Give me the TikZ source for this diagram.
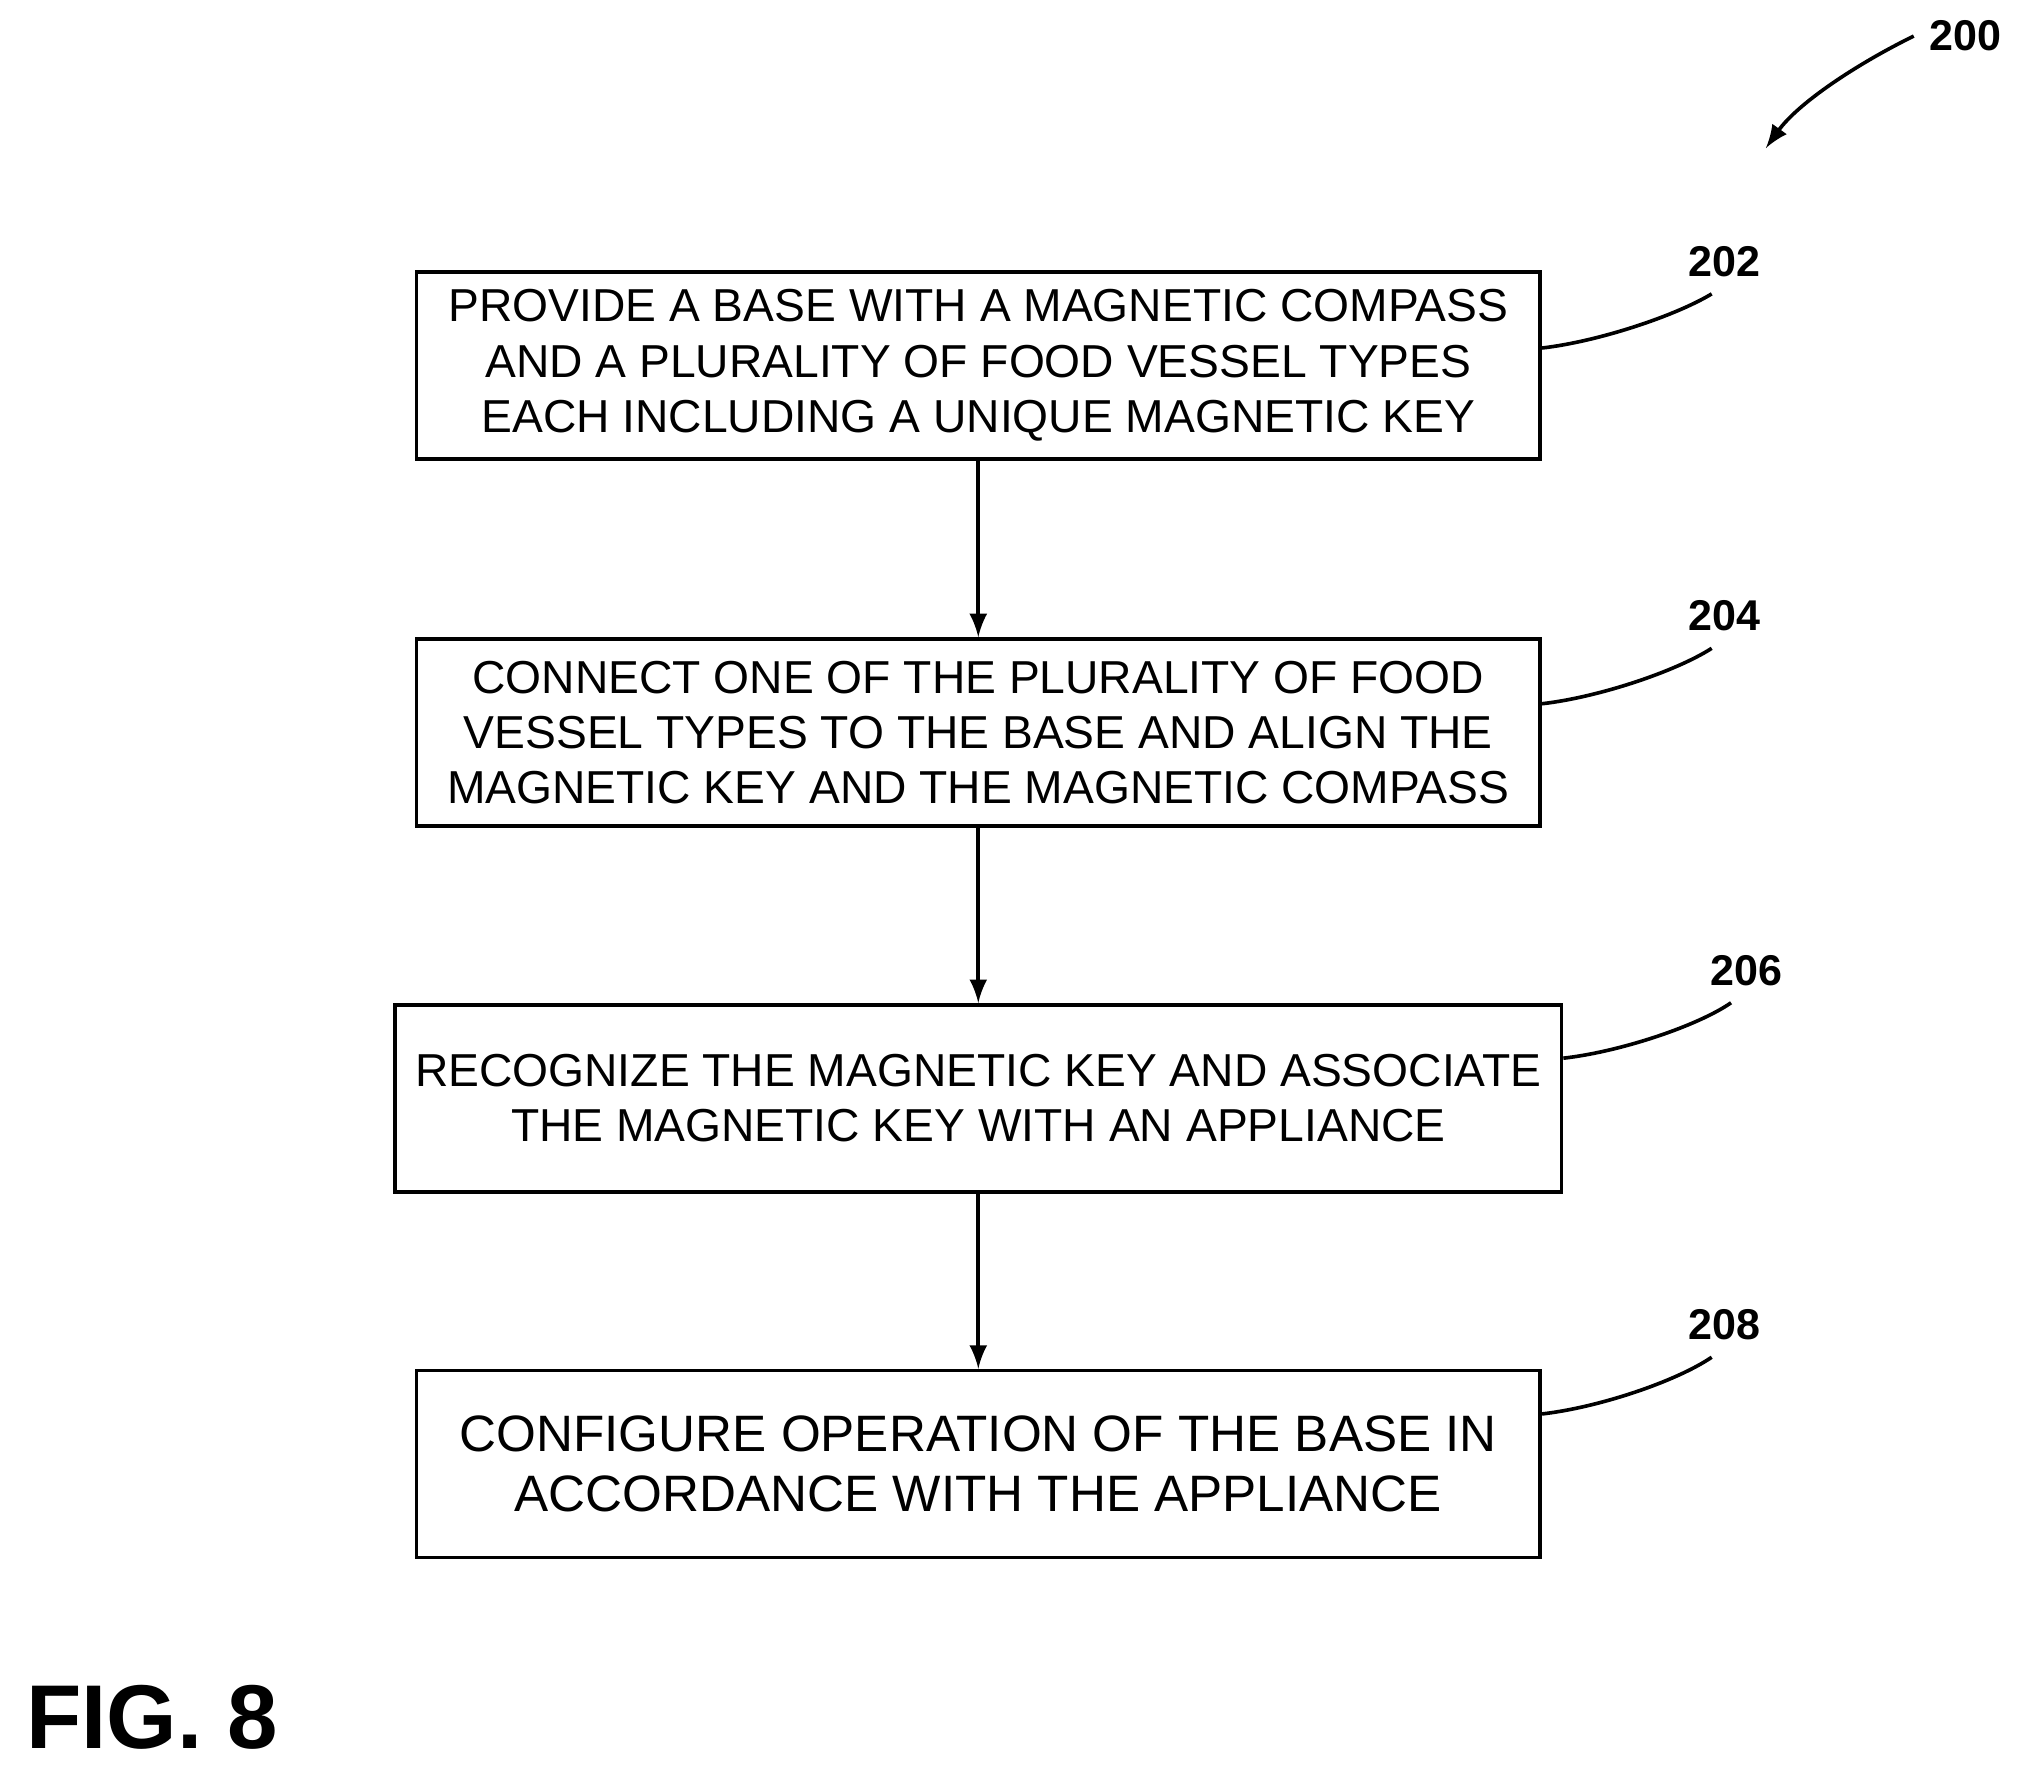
\documentclass[tikz,border=0pt]{standalone}
\usepackage{fontspec}
\setmainfont{Liberation Sans}
\usetikzlibrary{positioning}
\tikzset{
  stepbox/.style={draw, thick, align=center, minimum width=8.72cm, minimum height=1.45cm,
    inner sep=0pt, font=\fontsize{10.2}{12.2}\selectfont},
  flow/.style={thick, -latex},
  lead/.style={thick},
  refno/.style={font=\bfseries\fontsize{9.5}{11}\selectfont}
}
\begin{document}
\begin{tikzpicture}
	\useasboundingbox (0,0) rectangle (15.68,13.70);
	
	% Steps
	\node[stepbox] (s202) at (7.59,10.865) {PROVIDE A BASE WITH A MAGNETIC COMPASS\\AND A PLURALITY OF FOOD VESSEL TYPES\\EACH INCLUDING A UNIQUE MAGNETIC KEY};
	\node[stepbox, below=1.37cm of s202] (s204) {CONNECT ONE OF THE PLURALITY OF FOOD\\VESSEL TYPES TO THE BASE AND ALIGN THE\\MAGNETIC KEY AND THE MAGNETIC COMPASS};
	\node[stepbox, minimum width=9.05cm, below=1.36cm of s204] (s206) {RECOGNIZE THE MAGNETIC KEY AND ASSOCIATE\\THE MAGNETIC KEY WITH AN APPLIANCE};
	\node[stepbox, below=1.36cm of s206, font=\fontsize{11.3}{13.3}\selectfont] (s208) {CONFIGURE OPERATION OF THE BASE IN\\ACCORDANCE WITH THE APPLIANCE};
	
	\draw[flow] (s202) -- (s204);
	\draw[flow] (s204) -- (s206);
	\draw[flow] (s206) -- (s208);
	
	% Reference numerals
	\node[refno] (n202) at (13.38,11.67) {202};
	\node[refno] (n204) at (13.38,8.92) {204};
	\node[refno] (n206) at (13.55,6.17) {206};
	\node[refno] (n208) at (13.38,3.42) {208};
	\draw[lead] (s202.east |- 0,11.00) .. controls (12.4,11.05) and (13.0,11.25) .. (13.28,11.42);
	\draw[lead] (s204.east |- 0,8.24) .. controls (12.4,8.29) and (13.0,8.49) .. (13.28,8.67);
	\draw[lead] (s206.east |- 0,5.49) .. controls (12.57,5.54) and (13.17,5.74) .. (13.43,5.92);
	\draw[lead] (s208.east |- 0,2.73) .. controls (12.4,2.78) and (13.0,2.98) .. (13.28,3.17);
	
	\node[refno] (n200) at (15.25,13.42) {200};
	\coordinate (p200) at (13.70,12.55);
	\draw[thick, -latex] (n200.west) .. controls (14.4,13.2) and (13.95,12.9) .. (p200);
	
	\node[font=\bfseries\fontsize{20}{22}\selectfont, anchor=west] (fig) at (0.08,0.38) {FIG. 8};
\end{tikzpicture}
\end{document}
